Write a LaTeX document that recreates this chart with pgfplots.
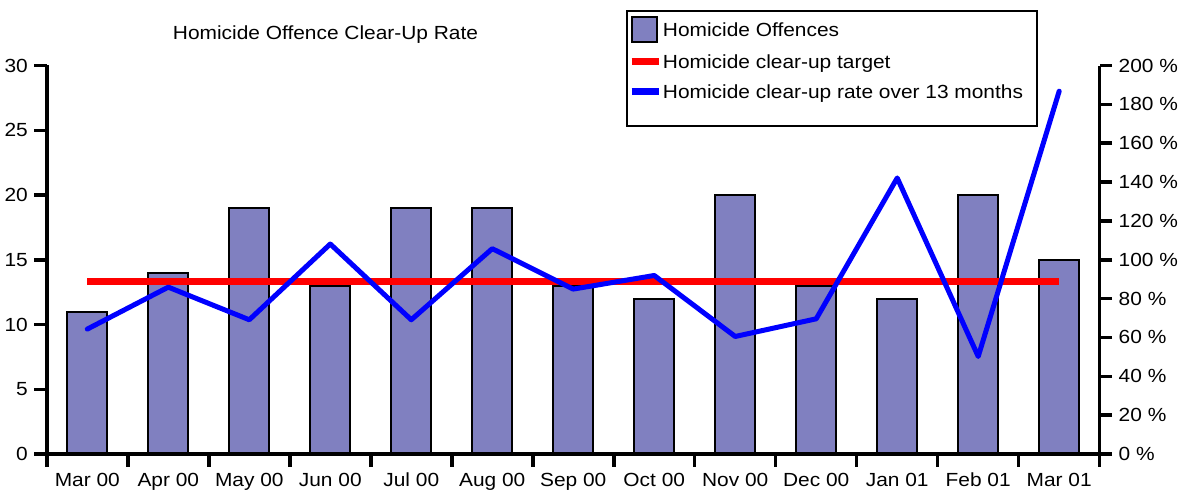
\documentclass[border=0pt]{standalone}
\usepackage{pgfplots}
\pgfplotsset{compat=1.18}
\usepackage{fontspec}
\setmainfont{Liberation Sans}[FakeStretch=1.1]
\definecolor{barfill}{RGB}{128,128,192}
\newcommand{\chartfont}{\fontsize{19pt}{23pt}\selectfont}
\pgfplotsset{
  common/.style={
    at={(46.8pt,37pt)}, anchor=south west,
    scale only axis, width=1052.9pt, height=388.5pt,
    xmin=-0.5, xmax=12.5,
    clip=false,
    axis line style={draw=none},
    tick align=outside,
    major tick length=12.5pt,
    tick style={black, line width=3.5pt},
    ticklabel style={font=\chartfont},
  }
}
\begin{document}
\chartfont
\begin{tikzpicture}
\useasboundingbox (0pt,0pt) rectangle (1186pt,491pt);
\begin{axis}[
  common,
  ymin=0, ymax=30,
  tick pos=left,
  xtick={-0.5,0.5,...,12.5},
  x tick label as interval,
  xticklabels={Mar 00,Apr 00,May 00,Jun 00,Jul 00,Aug 00,Sep 00,Oct 00,Nov 00,Dec 00,Jan 01,Feb 01,Mar 01},
  ytick={0,5,10,15,20,25,30},
  yticklabels={0,5,10,15,20,25,30},
  title={Homicide Offence Clear-Up Rate},
  title style={at={(0.2647,1.0507)}, anchor=base, yshift=0pt, font=\chartfont},
  legend cell align=left,
  legend style={at={(0.5505,1.1418)}, anchor=north west, draw=black, line width=2pt,
    inner xsep=1pt, inner ysep=5pt, row sep=10pt, column sep=1pt,
    nodes={inner sep=0pt, text height=15pt, text depth=5pt},
    font=\chartfont},
]
\addplot[ybar, bar width=40pt, fill=barfill, draw=black, line width=2pt,
  legend image code/.code={\draw[fill=barfill, draw=black, line width=2pt] (0pt,-10.5pt) rectangle (25pt,14.5pt);}]
  coordinates {(0,11) (1,14) (2,19) (3,13) (4,19) (5,19) (6,13) (7,12) (8,20) (9,13) (10,12) (11,20) (12,15)};
\addlegendentry{Homicide Offences}
\addplot[red, line width=7pt, line cap=butt,
  legend image code/.code={\draw[red, line width=6.5pt] (0pt,2pt) -- (27pt,2pt);}]
  coordinates {(0,13.33) (12,13.33)};
\addlegendentry{Homicide clear-up target}
\addlegendimage{blue, line width=6.5pt,
  legend image code/.code={\draw[blue, line width=6.5pt] (0pt,2pt) -- (27pt,2pt);}}
\addlegendentry{Homicide clear-up rate over 13 months\rule{13pt}{0pt}}
\addlegendimage{empty legend}
\addlegendentry[text height=8pt, text depth=0pt]{}
\draw[black, line width=3.5pt] (rel axis cs:0,1) -- (rel axis cs:0,0) -- (rel axis cs:1,0);
\end{axis}
\begin{axis}[
  common,
  ymin=0, ymax=200,
  hide x axis,
  ytick pos=right,
  ytick={0,20,...,200},
  yticklabels={0 \%,20 \%,40 \%,60 \%,80 \%,100 \%,120 \%,140 \%,160 \%,180 \%,200 \%},
]
\addplot[blue, line width=5pt, line join=round, line cap=round]
  coordinates {(0,64.3) (1,85.9) (2,69.1) (3,108.1) (4,69.1) (5,105.7) (6,84.9) (7,91.9) (8,60.5) (9,69.6) (10,142.1) (11,50.2) (12,186.8)};
\draw[black, line width=3.5pt] (rel axis cs:1,0) -- (rel axis cs:1,1);
\end{axis}
\end{tikzpicture}
\end{document}
